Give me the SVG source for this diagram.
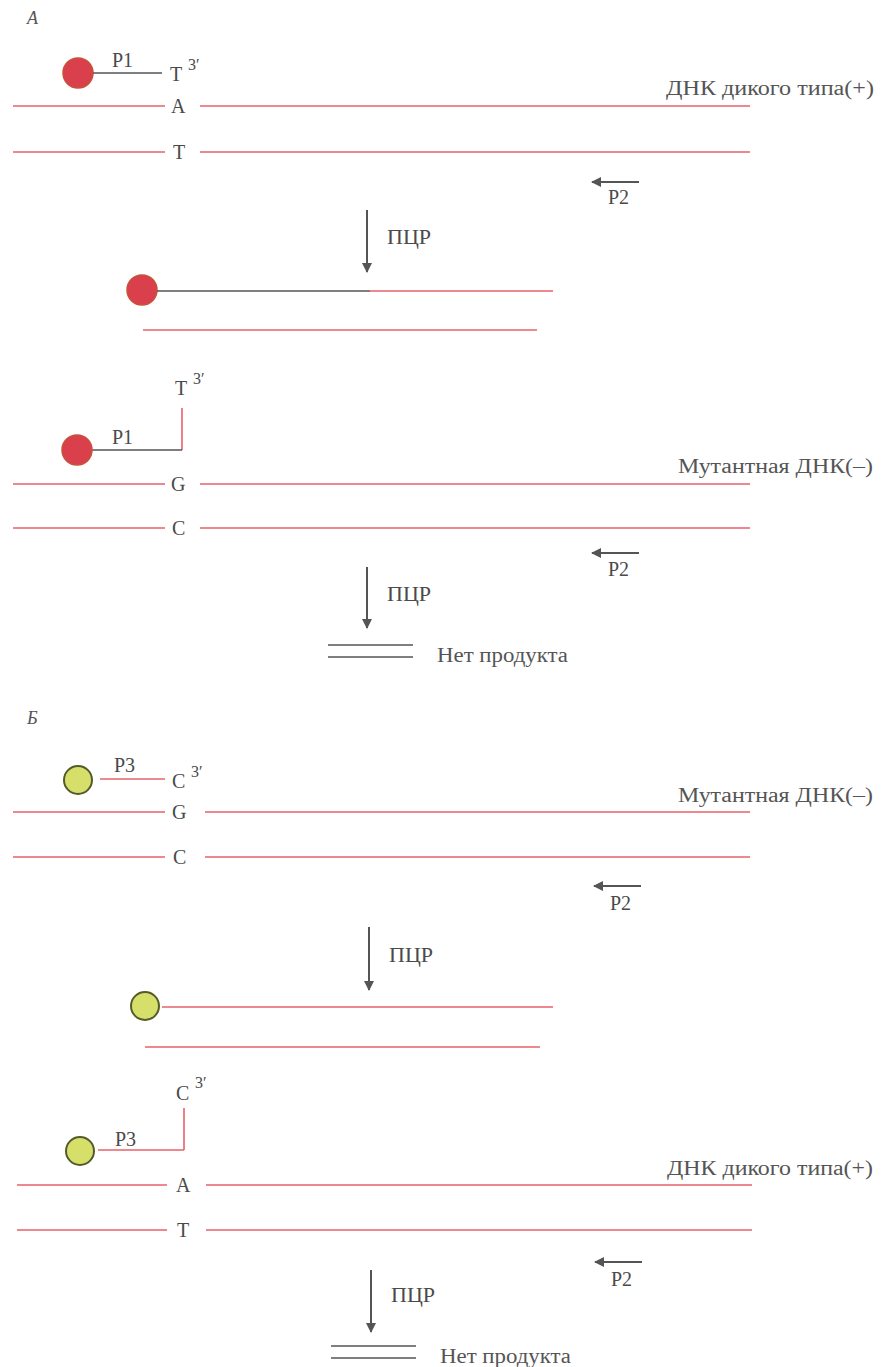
<svg xmlns="http://www.w3.org/2000/svg" width="881" height="1367" viewBox="0 0 881 1367" font-family="'Liberation Serif','DejaVu Serif',serif">
<style>
text{font-family:"Liberation Serif","DejaVu Serif",serif}
.t{font-size:20px;fill:#4a4a4a}
.s{font-size:16px;fill:#4a4a4a}
.lab{font-size:20px;fill:#555}
.it{font-style:italic;font-size:18px;fill:#555}
.dna{stroke:#e8606a;stroke-width:1.6;fill:none}
.gr{stroke:#555;stroke-width:1.6;fill:none}
.ar{stroke:#555;stroke-width:2;fill:none}
.red{fill:#d9404c;stroke:#c8503a;stroke-width:1.5}
.yel{fill:#d6df6a;stroke:#555a2a;stroke-width:2}
</style>
<defs>
<marker id="ah" viewBox="0 0 10 10" refX="9" refY="5" markerWidth="5" markerHeight="6" orient="auto" markerUnits="strokeWidth">
<path d="M0,0 L10,5 L0,10 z" fill="#555"/>
</marker>
</defs>
<rect width="881" height="1367" fill="#fff"/>

<text class="it" x="27" y="24">А</text>

<g id="A1">
<circle class="red" cx="78" cy="73" r="15"/>
<line class="gr" x1="93" y1="73" x2="162" y2="73"/>
<text class="t" x="112" y="67">P1</text>
<text class="t" x="170" y="81">T</text>
<text class="s" x="188" y="70">3′</text>
<line class="dna" x1="13" y1="106" x2="165" y2="106"/>
<text class="t" x="171" y="113">A</text>
<line class="dna" x1="200" y1="106" x2="750" y2="106"/>
<text class="lab" x="666" y="95" textLength="208" lengthAdjust="spacingAndGlyphs">ДНК дикого типа(+)</text>
<line class="dna" x1="13" y1="152" x2="165" y2="152"/>
<text class="t" x="173" y="159">T</text>
<line class="dna" x1="200" y1="152" x2="750" y2="152"/>
<line class="ar" x1="639" y1="182" x2="592" y2="182" marker-end="url(#ah)"/>
<text class="t" x="608" y="204">P2</text>
</g>

<g id="pcr1">
<line class="ar" x1="367" y1="210" x2="367" y2="272" marker-end="url(#ah)"/>
<text class="t" x="387" y="244" textLength="44" lengthAdjust="spacingAndGlyphs">ПЦР</text>
</g>

<g id="A2">
<circle class="red" cx="142" cy="290" r="15"/>
<line class="gr" x1="157" y1="291" x2="370" y2="291"/>
<line class="dna" x1="370" y1="291" x2="553" y2="291"/>
<line class="dna" x1="143" y1="330" x2="537" y2="330"/>
</g>

<g id="A3">
<text class="t" x="175" y="395">T</text>
<text class="s" x="193" y="384">3′</text>
<line class="dna" x1="182" y1="408" x2="182" y2="450"/>
<line class="gr" x1="92" y1="450" x2="182" y2="450"/>
<circle class="red" cx="77" cy="450" r="15"/>
<text class="t" x="112" y="444">P1</text>
<line class="dna" x1="13" y1="484" x2="165" y2="484"/>
<text class="t" x="171" y="491">G</text>
<line class="dna" x1="200" y1="484" x2="750" y2="484"/>
<text class="lab" x="678" y="473" textLength="195" lengthAdjust="spacingAndGlyphs">Мутантная ДНК(–)</text>
<line class="dna" x1="13" y1="528" x2="165" y2="528"/>
<text class="t" x="172" y="535">C</text>
<line class="dna" x1="200" y1="528" x2="750" y2="528"/>
<line class="ar" x1="639" y1="553" x2="592" y2="553" marker-end="url(#ah)"/>
<text class="t" x="608" y="576">P2</text>
</g>

<g id="pcr2">
<line class="ar" x1="367" y1="567" x2="367" y2="628" marker-end="url(#ah)"/>
<text class="t" x="387" y="601" textLength="44" lengthAdjust="spacingAndGlyphs">ПЦР</text>
<line class="gr" x1="328" y1="645" x2="413" y2="645"/>
<line class="gr" x1="328" y1="657" x2="413" y2="657"/>
<text class="lab" x="437" y="662" textLength="131" lengthAdjust="spacingAndGlyphs">Нет продукта</text>
</g>

<text class="it" x="27" y="724">Б</text>

<g id="B1">
<circle class="yel" cx="78" cy="780" r="14"/>
<line class="dna" x1="100" y1="779" x2="165" y2="779"/>
<text class="t" x="114" y="772">P3</text>
<text class="t" x="172" y="788">C</text>
<text class="s" x="191" y="777">3′</text>
<line class="dna" x1="13" y1="812" x2="165" y2="812"/>
<text class="t" x="172" y="819">G</text>
<line class="dna" x1="205" y1="812" x2="750" y2="812"/>
<text class="lab" x="678" y="802" textLength="195" lengthAdjust="spacingAndGlyphs">Мутантная ДНК(–)</text>
<line class="dna" x1="13" y1="857" x2="165" y2="857"/>
<text class="t" x="173" y="864">C</text>
<line class="dna" x1="205" y1="857" x2="750" y2="857"/>
<line class="ar" x1="641" y1="886" x2="594" y2="886" marker-end="url(#ah)"/>
<text class="t" x="610" y="910">P2</text>
</g>

<g id="pcr3">
<line class="ar" x1="369" y1="927" x2="369" y2="990" marker-end="url(#ah)"/>
<text class="t" x="389" y="962" textLength="44" lengthAdjust="spacingAndGlyphs">ПЦР</text>
</g>

<g id="B2">
<circle class="yel" cx="145" cy="1006" r="14"/>
<line class="dna" x1="162" y1="1007" x2="553" y2="1007"/>
<line class="dna" x1="145" y1="1047" x2="540" y2="1047"/>
</g>

<g id="B3">
<text class="t" x="176" y="1100">C</text>
<text class="s" x="195" y="1088">3′</text>
<line class="dna" x1="184" y1="1108" x2="184" y2="1150"/>
<line class="dna" x1="98" y1="1150" x2="184" y2="1150"/>
<circle class="yel" cx="80" cy="1151" r="14"/>
<text class="t" x="115" y="1146">P3</text>
<line class="dna" x1="17" y1="1185" x2="167" y2="1185"/>
<text class="t" x="176" y="1192">A</text>
<line class="dna" x1="206" y1="1185" x2="752" y2="1185"/>
<text class="lab" x="667" y="1175" textLength="206" lengthAdjust="spacingAndGlyphs">ДНК дикого типа(+)</text>
<line class="dna" x1="17" y1="1230" x2="167" y2="1230"/>
<text class="t" x="177" y="1237">T</text>
<line class="dna" x1="206" y1="1230" x2="752" y2="1230"/>
<line class="ar" x1="642" y1="1262" x2="595" y2="1262" marker-end="url(#ah)"/>
<text class="t" x="611" y="1286">P2</text>
</g>

<g id="pcr4">
<line class="ar" x1="371" y1="1270" x2="371" y2="1332" marker-end="url(#ah)"/>
<text class="t" x="391" y="1302" textLength="44" lengthAdjust="spacingAndGlyphs">ПЦР</text>
<line class="gr" x1="331" y1="1346" x2="416" y2="1346"/>
<line class="gr" x1="331" y1="1358" x2="416" y2="1358"/>
<text class="lab" x="440" y="1363" textLength="131" lengthAdjust="spacingAndGlyphs">Нет продукта</text>
</g>
</svg>
